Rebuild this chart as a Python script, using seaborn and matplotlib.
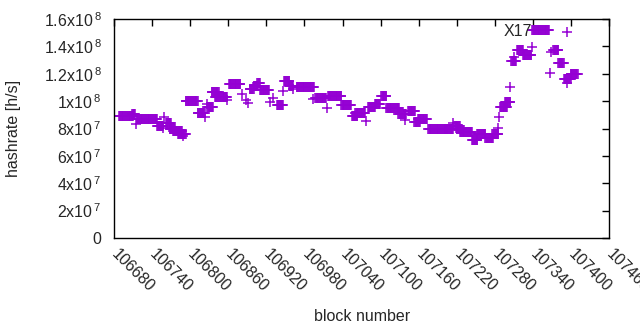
import numpy as np
import pandas as pd
import seaborn as sns
import matplotlib.pyplot as plt

# runs of blocks sharing the same hashrate (values in 1e7 h/s)
run_start = [106688, 106709, 106715, 106716, 106759, 106748, 106757, 106762, 106768, 106773,
             106781, 106789, 106793, 106812, 106823, 106827, 106826, 106834, 106839, 106858,
             106861, 106882, 106888, 106891, 106894, 106900, 106906, 106910, 106931, 106926,
             106937, 106946, 106948, 106956, 106962, 106968, 106997, 106994, 107016, 107017,
             107038, 107055, 107060, 107077, 107080, 107091, 107101, 107109, 107128, 107139,
             107143, 107153, 107159, 107175, 107202, 107214, 107216, 107220, 107225, 107244,
             107252, 107265, 107276, 107284, 107287, 107288, 107296, 107304, 107306, 107310,
             107315, 107324, 107339, 107339, 107367, 107369, 107372, 107380, 107389, 107394,
             107399, 107394]
run_end = [106710, 106713, 106715, 106748, 106759, 106757, 106757, 106770, 106776, 106787,
           106793, 106789, 106812, 106823, 106823, 106836, 106826, 106845, 106858, 106858,
           106879, 106882, 106888, 106891, 106900, 106906, 106910, 106924, 106931, 106926,
           106946, 106946, 106956, 106962, 106962, 106995, 107014, 106994, 107016, 107038,
           107053, 107063, 107075, 107077, 107091, 107099, 107109, 107129, 107140, 107139,
           107154, 107162, 107173, 107205, 107214, 107214, 107225, 107228, 107244, 107252,
           107265, 107277, 107285, 107284, 107287, 107299, 107304, 107304, 107313, 107310,
           107324, 107337, 107339, 107365, 107367, 107369, 107380, 107388, 107399, 107394,
           107410, 107394]
run_value = [8.9, 9.05, 8.33, 8.69, 8.84, 8.18, 8.04, 8.40, 7.96, 7.82,
             7.60, 7.45, 10.0, 9.13, 8.84, 9.57, 9.79, 10.67, 10.3, 10.08,
             11.25, 10.52, 10.08, 9.86, 10.9, 11.1, 11.3, 10.81, 10.23, 9.94,
             9.72, 10.74, 11.47, 11.1, 10.9, 11.03, 10.23, 10.16, 9.50, 10.38,
             9.72, 8.9, 9.1, 8.55, 9.57, 9.79, 10.38, 9.5, 9.06, 8.62,
             9.28, 8.47, 8.69, 8.0, 8.0, 8.40, 8.18, 7.96, 7.74, 7.16,
             7.6, 7.31, 7.6, 8.04, 8.84, 9.57, 9.94, 11.03, 12.93, 13.22,
             13.73, 13.37, 13.95, 15.2, 12.05, 13.59, 13.73, 12.79, 11.62, 11.35,
             11.98, 15.05]

x_ticks = list(range(106680, 107461, 60))
y_ticks = [0, 2e7, 4e7, 6e7, 8e7, 1e8, 1.2e8, 1.4e8, 1.6e8]
y_labels = ["0", r"2x10$^{\,7}$", r"4x10$^{\,7}$", r"6x10$^{\,7}$", r"8x10$^{\,7}$",
            r"1x10$^{\,8}$", r"1.2x10$^{\,8}$", r"1.4x10$^{\,8}$", r"1.6x10$^{\,8}$"]

blocks, rates = [], []
for s, e, v in zip(run_start, run_end, run_value):
    for b in range(s, e + 1):
        blocks.append(b)
        rates.append(v * 1e7)
df = pd.DataFrame({"block": blocks, "hashrate": rates})

sns.set_style("white")
plt.rcParams["font.family"] = ["Liberation Sans", "DejaVu Sans"]
plt.rcParams["mathtext.default"] = "regular"

fig, ax = plt.subplots(figsize=(6.4, 3.3), dpi=100)
fig.subplots_adjust(left=0.178, right=0.952, bottom=0.279, top=0.942)

sns.scatterplot(x="block", y="hashrate", data=df, marker="+", color="#9400d3",
                s=42, linewidth=1.1, ax=ax, legend=False)

ax.text(107338, 1.51e8, "X17", ha="right", va="center", fontsize=11.5)

ax.set_xlim(106680, 107460)
ax.set_ylim(0, 1.6e8)
ax.set_xticks(x_ticks)
ax.set_xticklabels([str(t) for t in x_ticks], rotation=-45, ha="left", va="center",
                   rotation_mode="anchor", fontsize=11.5)
ax.set_yticks(y_ticks)
ax.set_yticklabels(y_labels, fontsize=11.5)
ax.tick_params(direction="in", length=5, width=1, top=True, right=True, color="black")
ax.tick_params(axis="x", pad=10)
ax.tick_params(axis="y", pad=9)
for sp in ax.spines.values():
    sp.set_color("black")
    sp.set_linewidth(1)
ax.set_xlabel("block number", fontsize=11.5, labelpad=10)
ax.set_ylabel("hashrate [h/s]", fontsize=11.5, labelpad=16)

plt.savefig("out.png")
